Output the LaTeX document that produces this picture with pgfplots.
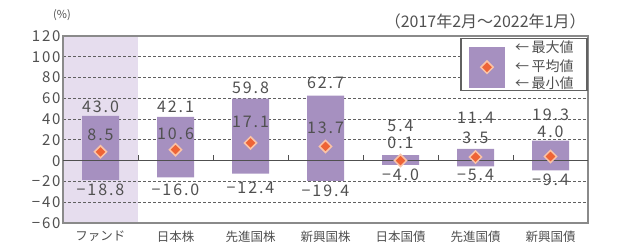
\documentclass[border=0pt]{standalone}
\usepackage{pgfplots}
\pgfplotsset{compat=1.18}
\usetikzlibrary{shapes.geometric}
\usepackage{fontspec}
\setmainfont{Noto Sans CJK JP}
\newfontfamily\numfont[LetterSpace=12]{Noto Sans CJK JP}
\definecolor{barc}{HTML}{A690C0}
\definecolor{bgc}{HTML}{E6DDEE}
\definecolor{dia}{HTML}{EE6436}
\definecolor{diaedge}{HTML}{FBC3A6}
\definecolor{txt}{HTML}{505050}
\definecolor{gridc}{HTML}{606060}
\definecolor{framec}{HTML}{8A8A8A}
\begin{document}
\begin{tikzpicture}[x=1pt,y=1pt]
\begin{axis}[
 set layers,
 scale only axis, width=525pt, height=187pt,
 xmin=-0.5, xmax=6.5, ymin=-60, ymax=120,
 xtick={0,...,6},
 xticklabels={ファンド,日本株,先進国株,新興国株,日本国債,先進国債,新興国債},
 ytick={-60,-40,...,120},
 yticklabels={−60,−40,−20,0,20,40,60,80,100,120},
 major tick length=0pt,
 ymajorgrids,
 major grid style={gridc, dash pattern=on 3pt off 2pt, line width=1pt},
 axis line style={framec, line width=1.5pt},
 tick label style={text=txt},
 xticklabel style={font=\fontsize{12.5}{14}\selectfont, yshift=-4pt},
 yticklabel style={font=\numfont\fontsize{15}{17}\selectfont, xshift=1pt},
 clip=false,
]
% invisible bounding frame matching 630x248
\path (axis cs:-1.34,-84.06) rectangle (axis cs:7.06,154.65);
% shaded column (below grid)
\begin{pgfonlayer}{axis background}
\fill[bgc] (axis cs:-0.5,-60) rectangle (axis cs:0.5,120);
\end{pgfonlayer}
% bars max / min
\addplot[ybar, bar width=37pt, bar shift=0pt, fill=barc, draw=none]
  coordinates {(0,43.0) (1,42.1) (2,59.8) (3,62.7) (4,5.4) (5,11.4) (6,19.3)};
\addplot[ybar, bar width=37pt, bar shift=0pt, fill=barc, draw=none]
  coordinates {(0,-18.8) (1,-16.0) (2,-12.4) (3,-19.4) (4,-4.0) (5,-5.4) (6,-9.4)};
% zero line and small ticks
\draw[txt, line width=1.2pt] (axis cs:-0.5,0) -- (axis cs:6.5,0);
\draw[txt, line width=1pt] (axis cs:0.5,0) -- (axis cs:0.5,5);
\draw[txt, line width=1pt] (axis cs:1.5,0) -- (axis cs:1.5,5);
\draw[txt, line width=1pt] (axis cs:2.5,0) -- (axis cs:2.5,5);
\draw[txt, line width=1pt] (axis cs:3.5,0) -- (axis cs:3.5,5);
\draw[txt, line width=1pt] (axis cs:4.5,0) -- (axis cs:4.5,5);
\draw[txt, line width=1pt] (axis cs:5.5,0) -- (axis cs:5.5,5);
% mean diamonds
\addplot[only marks, mark=square*, mark size=4.3pt,
  mark options={rotate=45, fill=dia, draw=diaedge, line width=1.5pt}]
  coordinates {(0,8.5) (1,10.6) (2,17.1) (3,13.7) (4,0.1) (5,3.5) (6,4.0)};
% labels
\begin{scope}[every node/.style={font=\numfont\fontsize{16}{18}\selectfont, text=txt, inner sep=0pt}]
\node at (axis cs:0,52) {43.0};
\node at (axis cs:1,51.5) {42.1};
\node at (axis cs:2,70) {59.8};
\node at (axis cs:3,75) {62.7};
\node at (axis cs:4,33) {5.4};
\node at (axis cs:5,41) {11.4};
\node at (axis cs:6,44) {19.3};
\node at (axis cs:0,25) {8.5};
\node at (axis cs:1,25.5) {10.6};
\node at (axis cs:2,37) {17.1};
\node at (axis cs:3,32) {13.7};
\node at (axis cs:4,17) {0.1};
\node at (axis cs:5,22) {3.5};
\node at (axis cs:6,28) {4.0};
\node at (axis cs:0,-28) {−18.8};
\node at (axis cs:1,-28) {−16.0};
\node at (axis cs:2,-26) {−12.4};
\node at (axis cs:3,-29) {−19.4};
\node at (axis cs:4,-13.5) {−4.0};
\node at (axis cs:5,-13.5) {−5.4};
\node at (axis cs:6,-18) {−9.4};
\end{scope}
% unit and period
\node[anchor=south west, inner sep=0pt, text=txt, font=\fontsize{11}{13}\selectfont] at (axis cs:-0.633,135) {(\%)};
\node[anchor=east, inner sep=0pt, text=txt, font=\fontsize{16}{18}\selectfont] at (axis cs:6.47,133.8) {（2017年2月〜2022年1月）};
% legend
\draw[fill=white, draw=txt!90, line width=1.2pt] (axis cs:4.807,117.4) rectangle (axis cs:6.487,67.4);
\fill[barc] (axis cs:4.913,109.7) rectangle (axis cs:5.393,70.3);
\node[diamond, minimum size=13pt, inner sep=0pt, fill=dia, draw=diaedge, line width=1.5pt] at (axis cs:5.153,90) {};
\begin{scope}[every node/.style={anchor=west, inner sep=0pt, font=\fontsize{14}{16}\selectfont, text=txt}]
\node at (axis cs:5.527,108.8) {←\,最大値};
\node at (axis cs:5.527,90.5) {←\,平均値};
\node at (axis cs:5.527,74.1) {←\,最小値};
\end{scope}
\end{axis}
\end{tikzpicture}
\end{document}
